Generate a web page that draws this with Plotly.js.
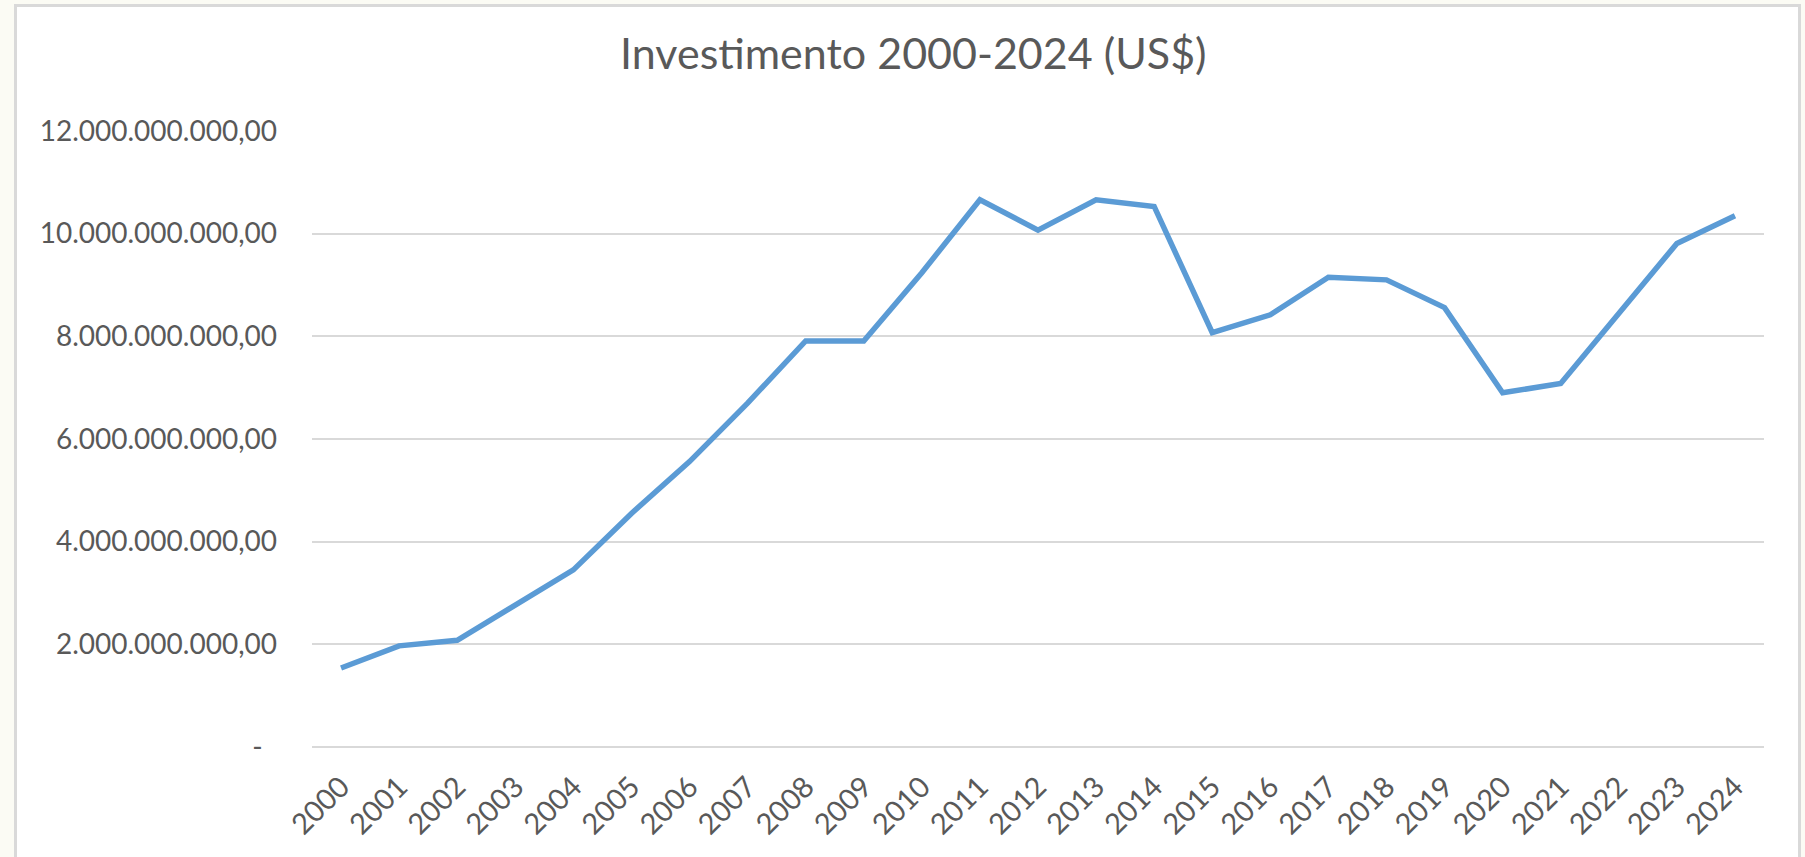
<!DOCTYPE html>
<html>
<head>
<meta charset="utf-8">
<script src="https://cdn.plot.ly/plotly-3.0.1.min.js"></script>
<style>
  html, body { margin: 0; padding: 0; width: 1805px; height: 857px; overflow: hidden; background: #fbfbf4; }
  #frame { position: absolute; left: 14px; top: 4px; width: 1787px; height: 900px; background: #ffffff; border: 3px solid #d9d9d9; box-sizing: border-box; }
  #chart { position: absolute; left: 0; top: 0; width: 1805px; height: 857px; }
</style>
</head>
<body>
<div id="frame"></div>
<div id="chart"></div>
<script>
// Data
const years = ["2000","2001","2002","2003","2004","2005","2006","2007","2008","2009",
               "2010","2011","2012","2013","2014","2015","2016","2017","2018","2019",
               "2020","2021","2022","2023","2024"];
const investment = [1.54e9, 1.97e9, 2.08e9, 2.76e9, 3.45e9, 4.55e9, 5.56e9, 6.70e9, 7.91e9, 7.91e9,
                    9.24e9, 10.66e9, 10.07e9, 10.66e9, 10.53e9, 8.07e9, 8.42e9, 9.15e9, 9.10e9, 8.56e9,
                    6.90e9, 7.08e9, 8.43e9, 9.81e9, 10.35e9];
const yTickVals = [0, 2e9, 4e9, 6e9, 8e9, 10e9, 12e9];
const yTickText = ["-\u00a0\u00a0", "2.000.000.000,00", "4.000.000.000,00", "6.000.000.000,00",
                   "8.000.000.000,00", "10.000.000.000,00", "12.000.000.000,00"];
const chartTitle = "Investimento 2000-2024 (US$)";

const font = "Lato, 'Open Sans', sans-serif";
const textColor = "#595959";

const trace = {
  x: years,
  y: investment,
  type: "scatter",
  mode: "lines",
  line: { color: "#5B9BD5", width: 5.5, shape: "linear" },
  hoverinfo: "x+y"
};

const layout = {
  width: 1805,
  height: 857,
  paper_bgcolor: "rgba(0,0,0,0)",
  plot_bgcolor: "rgba(0,0,0,0)",
  margin: { l: 312, r: 41, t: 131, b: 110, pad: 0 },
  showlegend: false,
  title: {
    text: chartTitle,
    font: { family: font, size: 43, color: textColor },
    xref: "container", x: 0.506, xanchor: "center",
    yref: "container", y: 0.937, yanchor: "middle"
  },
  xaxis: {
    type: "category",
    range: [-0.5, years.length - 0.5],
    tickangle: -45,
    showgrid: false,
    showline: false,
    zeroline: false,
    ticks: "",
    ticklabelstandoff: 16,
    tickfont: { family: font, size: 29, color: textColor },
    automargin: false
  },
  yaxis: {
    range: [0, 12e9],
    tickvals: yTickVals,
    ticktext: yTickText,
    showgrid: true,
    gridcolor: "#d9d9d9",
    gridwidth: 1.5,
    zeroline: true,
    zerolinecolor: "#d9d9d9",
    zerolinewidth: 1.5,
    showline: false,
    ticks: "",
    ticklabelstandoff: 34,
    tickfont: { family: font, size: 28, color: textColor },
    automargin: false
  }
};

Plotly.newPlot("chart", [trace], layout, { displayModeBar: false, responsive: false });
</script>
</body>
</html>
